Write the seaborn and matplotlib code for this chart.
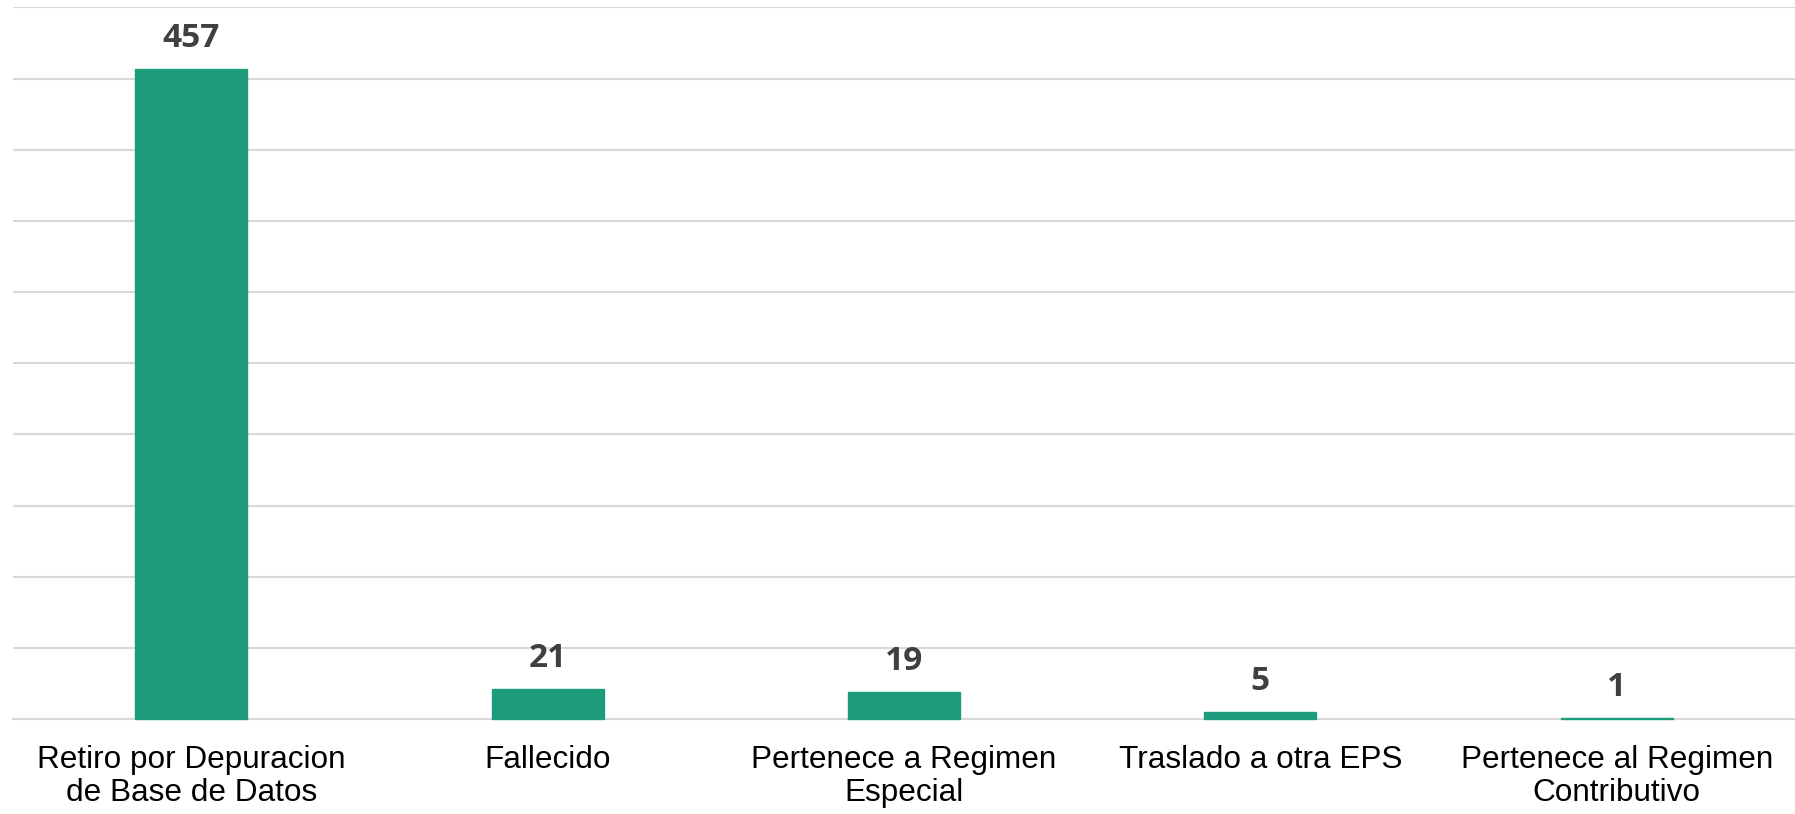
import matplotlib
matplotlib.use("Agg")
import matplotlib.pyplot as plt
import seaborn as sns
import pandas as pd

categories = ["Retiro por Depuracion\nde Base de Datos", "Fallecido",
              "Pertenece a Regimen\nEspecial", "Traslado a otra EPS",
              "Pertenece al Regimen\nContributivo"]
values = [457, 21, 19, 5, 1]

df = pd.DataFrame({"cat": categories, "val": values})

sns.set_theme(style="white")
plt.rcParams['font.family'] = ['Liberation Sans', 'DejaVu Sans']

fig = plt.figure(figsize=(17.95, 8.14), dpi=100)
ax = fig.add_axes([13/1795, 1 - 719/814, 1 - 13/1795, (719 - 7.5)/814])

sns.barplot(data=df, x="cat", y="val", color="#1E9B7A", width=0.314,
            saturation=1, ax=ax, zorder=3, edgecolor="#1E9B7A", linewidth=1.0)
for p in ax.patches:
    p.set_zorder(5)
    p.set_clip_on(False)

ax.set_ylim(0, 500)
ax.set_yticks(range(0, 501, 50))
ax.set_xlim(-0.5, 4.5)
ax.yaxis.grid(True, color="#D9D9D9", linewidth=1.5, zorder=0)
ax.set_axisbelow(True)
ax.tick_params(axis='y', left=False, labelleft=False)
ax.tick_params(axis='x', bottom=False, labelsize=22.7, pad=13, colors="#000000")
for lab in ax.get_xticklabels():
    lab.set_linespacing(1.12)
for s in ["left", "right", "top"]:
    ax.spines[s].set_visible(False)
ax.spines["bottom"].set_color("#D9D9D9")
ax.spines["bottom"].set_linewidth(1.5)
ax.spines["bottom"].set_zorder(1)
ax.set_xlabel("")
ax.set_ylabel("")

for i, v in enumerate(values):
    ax.annotate(str(v), (i, v), xytext=(0, 10), textcoords="offset points",
                ha="center", va="bottom", fontsize=24, fontweight="bold",
                color="#404040", family=["Open Sans", "DejaVu Sans"])

fig.savefig("out.png", dpi=100)
